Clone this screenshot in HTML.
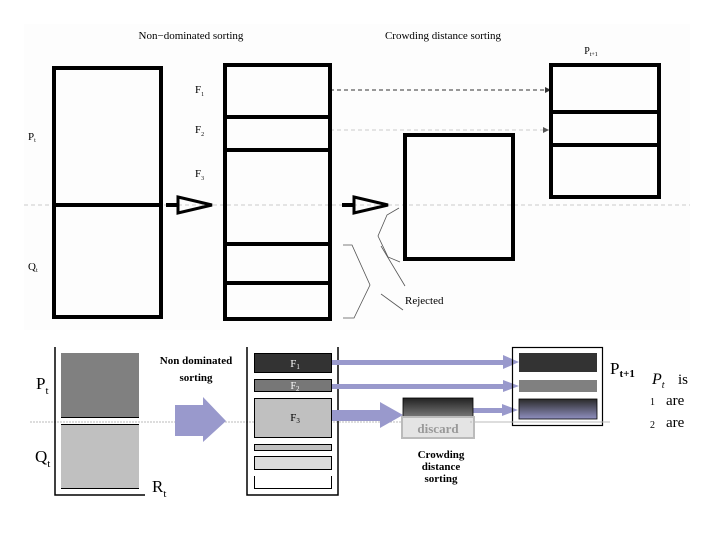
<!DOCTYPE html>
<html><head><style>body{margin:0;background:#fff}svg{display:block}</style></head><body>
<svg width="720" height="540" xmlns="http://www.w3.org/2000/svg" font-family="Liberation Serif, serif">
<defs>
<linearGradient id="g1" x1="0" y1="0" x2="0" y2="1"><stop offset="0" stop-color="#2a2a2a"/><stop offset="1" stop-color="#9090c0"/></linearGradient>
<linearGradient id="g2" x1="0" y1="0" x2="0" y2="1"><stop offset="0" stop-color="#222"/><stop offset="1" stop-color="#777"/></linearGradient>
</defs>
<rect x="24" y="24" width="666" height="306" fill="#fdfdfd"/>
<text x="191" y="39" font-size="11" text-anchor="middle">Non−dominated sorting</text>
<text x="443" y="39" font-size="11" text-anchor="middle">Crowding distance sorting</text>
<text x="591" y="54" font-size="10" text-anchor="middle">P<tspan font-size="6" dy="2">t+1</tspan></text>
<text x="28" y="140" font-size="11">P<tspan font-size="6" dy="2">t</tspan></text>
<text x="28" y="270" font-size="11">Q<tspan font-size="6" dy="2">t</tspan></text>
<text x="195" y="93" font-size="11">F<tspan font-size="6" dy="3">1</tspan></text>
<text x="195" y="133" font-size="11">F<tspan font-size="6" dy="3">2</tspan></text>
<text x="195" y="177" font-size="11">F<tspan font-size="6" dy="3">3</tspan></text>
<text x="405" y="304" font-size="11">Rejected</text>
<g stroke="#ccc" stroke-dasharray="4,3" stroke-width="1">
<line x1="24" y1="205" x2="690" y2="205"/>
<line x1="330" y1="130" x2="550" y2="130"/>
</g>
<line x1="330" y1="90" x2="545" y2="90" stroke="#333" stroke-dasharray="4,3"/>
<polygon points="545,87 551,90 545,93" fill="#333"/>
<polygon points="543,127 549,130 543,133" fill="#555"/>
<g fill="none" stroke="#000" stroke-width="4">
<rect x="54" y="68" width="107" height="249"/>
<line x1="54" y1="205" x2="161" y2="205"/>
<rect x="225" y="65" width="105" height="254"/>
<line x1="225" y1="117" x2="330" y2="117"/>
<line x1="225" y1="150" x2="330" y2="150"/>
<line x1="225" y1="244" x2="330" y2="244"/>
<line x1="225" y1="283" x2="330" y2="283"/>
<rect x="405" y="135" width="108" height="124"/>
<rect x="551" y="65" width="108" height="132"/>
<line x1="551" y1="112" x2="659" y2="112"/>
<line x1="551" y1="145" x2="659" y2="145"/>
<line x1="166" y1="205" x2="178" y2="205"/>
<polygon points="178,197 212,205 178,213" stroke-width="3"/>
<line x1="342" y1="205" x2="354" y2="205"/>
<polygon points="354,197 388,205 354,213" stroke-width="3"/>
</g>
<g fill="none" stroke="#555" stroke-width="0.8">
<polyline points="399,208 387,215 378,236 388,257 400,262"/>
<polyline points="343,245 352,245 370,285 354,318 343,318"/>
<line x1="405" y1="286" x2="381" y2="246"/>
<line x1="403" y1="310" x2="381" y2="294"/>
</g>
<line x1="30" y1="422" x2="610" y2="422" stroke="#bbb" stroke-dasharray="2,1"/>
<polyline points="55,347 55,495 145,495" fill="none" stroke="#000" stroke-width="1.5"/>
<rect x="61" y="353" width="78" height="64" fill="#808080"/>
<rect x="61" y="424" width="78" height="64" fill="#c0c0c0"/>
<g stroke="#000" stroke-width="1"><line x1="61" y1="417.5" x2="139" y2="417.5"/><line x1="61" y1="424.5" x2="139" y2="424.5"/><line x1="61" y1="488.5" x2="139" y2="488.5"/></g>
<text x="36" y="389" font-size="17">P<tspan font-size="11" dy="5">t</tspan></text>
<text x="35" y="462" font-size="17">Q<tspan font-size="11" dy="5">t</tspan></text>
<text x="152" y="492" font-size="17">R<tspan font-size="11" dy="5">t</tspan></text>
<text x="196" y="364" font-size="11" font-weight="bold" text-anchor="middle">Non dominated</text>
<text x="196" y="381" font-size="11" font-weight="bold" text-anchor="middle">sorting</text>
<polygon points="175,405 203,405 203,397 226,421 203,442 203,436 175,436" fill="#9999cc"/>
<polyline points="247,347 247,495 338,495 338,347" fill="none" stroke="#000" stroke-width="1.5"/>
<rect x="254.5" y="353.5" width="77" height="19" fill="#333" stroke="#000"/>
<rect x="254.5" y="379.5" width="77" height="12" fill="#777" stroke="#000"/>
<rect x="254.5" y="398.5" width="77" height="39" fill="#c0c0c0" stroke="#000"/>
<rect x="254.5" y="444.5" width="77" height="6" fill="#c0c0c0" stroke="#000"/>
<rect x="254.5" y="456.5" width="77" height="13" fill="#ddd" stroke="#000"/>
<polyline points="254.5,476 254.5,488.5 331.5,488.5 331.5,476" fill="none" stroke="#000"/>
<text x="295" y="367" font-size="11" fill="#fff" text-anchor="middle">F<tspan font-size="7" dy="2">1</tspan></text>
<text x="295" y="389" font-size="10" fill="#fff" text-anchor="middle">F<tspan font-size="7" dy="2">2</tspan></text>
<text x="295" y="421" font-size="11" text-anchor="middle">F<tspan font-size="7" dy="2">3</tspan></text>
<g fill="#9999cc">
<rect x="332" y="360" width="172" height="5"/><polygon points="503,355 519,362 503,369"/>
<rect x="332" y="384" width="172" height="5"/><polygon points="503,380 519,386 503,392"/>
<rect x="332" y="410" width="50" height="11"/><polygon points="380,402 403,415 380,428"/>
<rect x="473" y="408" width="30" height="5"/><polygon points="502,404 518,410 502,416"/>
</g>
<rect x="403" y="398" width="70" height="19" fill="url(#g2)" stroke="#000" stroke-width="0.8"/>
<rect x="402" y="417" width="72" height="21" fill="#e4e4e4" stroke="#bbb" stroke-width="2"/>
<text x="438" y="433" font-size="13" font-weight="bold" fill="#999" text-anchor="middle">discard</text>
<text x="441" y="458" font-size="11" font-weight="bold" text-anchor="middle">Crowding</text>
<text x="441" y="470" font-size="11" font-weight="bold" text-anchor="middle">distance</text>
<text x="441" y="482" font-size="11" font-weight="bold" text-anchor="middle">sorting</text>
<rect x="512.5" y="347.5" width="90" height="78" fill="none" stroke="#000" stroke-width="1.2"/>
<rect x="519" y="353" width="78" height="19" fill="#333"/>
<rect x="519" y="380" width="78" height="12" fill="#808080"/>
<rect x="519" y="399" width="78" height="20" fill="url(#g1)" stroke="#000" stroke-width="0.8"/>
<line x1="470" y1="422" x2="610" y2="422" stroke="#bbb" stroke-dasharray="2,1"/>
<text x="610" y="374" font-size="17">P<tspan font-size="11" dy="3" font-weight="bold">t+1</tspan></text>
<text x="652" y="384" font-size="16" font-style="italic">P<tspan font-size="10" dy="4">t</tspan></text>
<text x="678" y="384" font-size="15">is</text>
<text x="650" y="405" font-size="10">1</text><text x="666" y="405" font-size="15">are</text>
<text x="650" y="428" font-size="10">2</text><text x="666" y="427" font-size="15">are</text>
</svg>
</body></html>
